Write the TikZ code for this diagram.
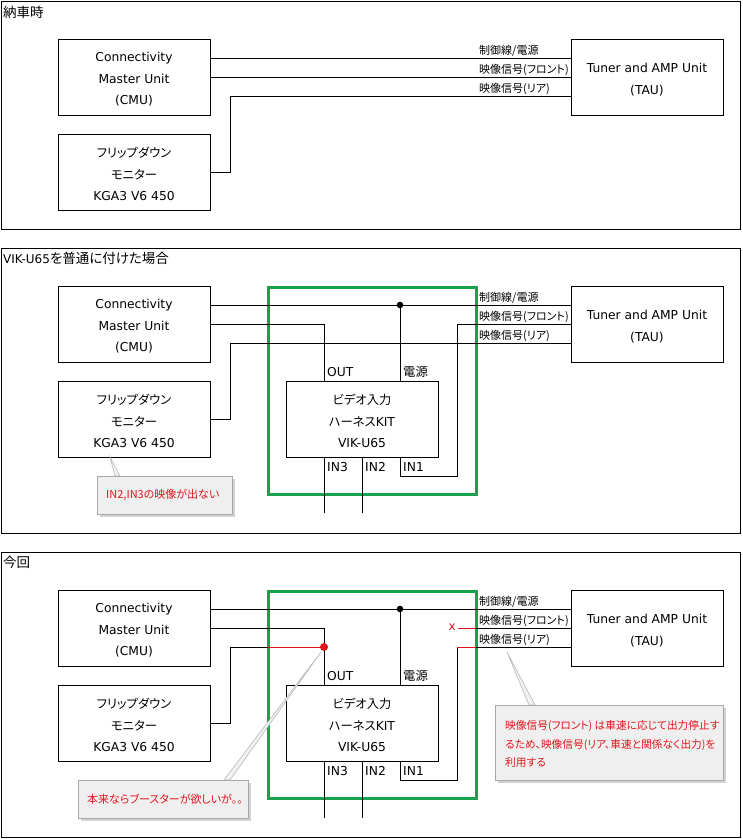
\documentclass[tikz,border=0pt]{standalone}
\usepackage{fontspec}
\setmainfont{DejaVu Sans}
\newfontfamily\cjk[RawFeature=+palt]{Noto Sans CJK JP}
\newfontfamily\lat{DejaVu Sans}
\usetikzlibrary{shadows}
\definecolor{grn}{HTML}{17A24E}
\definecolor{rd}{HTML}{E3141C}
\definecolor{callfill}{HTML}{EFEFEF}
\definecolor{callborder}{HTML}{A8A8A8}
\tikzset{
  panel/.style={draw, line width=0.9pt, minimum width=739pt, minimum height=285pt, inner sep=0pt},
  unit/.style={draw, line width=0.9pt, minimum width=152pt, minimum height=76pt, inner sep=0pt},
  utext/.style={inner sep=0pt, align=center, font=\lat\fontsize{12.3}{21.5}\selectfont},
  wire/.style={line width=0.9pt},
  redwire/.style={line width=0.9pt, draw=rd},
  sig/.style={font=\cjk\fontsize{11}{13}\selectfont, anchor=base west, inner sep=0pt},
  port/.style={font=\lat\fontsize{12.3}{14}\selectfont, anchor=base west, inner sep=0pt},
  ttl/.style={font=\cjk\fontsize{13.5}{15}\selectfont, anchor=west, inner sep=0pt},
  grnbox/.style={draw=grn, line width=3pt, inner sep=0pt, minimum width=208pt, minimum height=207pt},
  callout/.style={draw=callborder, fill=callfill, line width=0.8pt, inner sep=0pt,
     drop shadow={opacity=0.35, shadow xshift=2.5pt, shadow yshift=-2.5pt}},
  calltext/.style={font=\cjk\fontsize{11}{18.5}\selectfont, text=rd, anchor=west, inner sep=0pt, align=left},
  pointer/.style={draw=gray!55, line width=0.6pt, fill=gray!10},
}
\newcommand{\cmutext}{Connectivity\\Master Unit\\(CMU)}
\newcommand{\tautext}{Tuner and AMP Unit\\(TAU)}
\newcommand{\monitortext}{{\cjk\fontsize{12.3}{21.5}\selectfont フリップダウン}\\{\cjk\fontsize{12.3}{21.5}\selectfont モニター}\\KGA3 V6 450}
\newcommand{\viktext}{{\cjk\fontsize{12.3}{21.5}\selectfont ビデオ入力}\\{\cjk\fontsize{12.3}{21.5}\selectfont ハーネス}KIT\\VIK-U65}
\begin{document}
\begin{tikzpicture}[x=1pt,y=-1pt]
\useasboundingbox[fill=white] (0,0) rectangle (743,839);

% ================= Panel 1 =================
\node[panel, minimum height=228pt] (p1) at (370.5,115) {};
\node[ttl] (t1) at (3,12) {納車時};
\node[unit] (cmu1) at (134,77) {};
\node[utext] (cmu1t) at ([yshift=-2.5pt]cmu1.center) {\cmutext};
\node[unit] (mon1) at (134,172) {};
\node[utext] (mon1t) at ([yshift=-2pt]mon1.center) {\monitortext};
\node[unit] (tau1) at (647,77) {};
\node[utext] (tau1t) at ([yshift=-2.5pt]tau1.center) {\tautext};
\draw[wire] ([yshift=19pt]cmu1.east) -- ([yshift=19pt]tau1.west);
\draw[wire] (cmu1.east) -- (tau1.west);
\draw[wire] (mon1.east) -- ++(20,0) |- ([yshift=-19pt]tau1.west);
\node[sig] (s1a) at (479,54) {制御線/電源};
\node[sig] (s1b) at (479,73) {映像信号(フロント)};
\node[sig] (s1c) at (479,92) {映像信号(リア)};

% ================= Panel 2 =================
\begin{scope}[shift={(0,247)}]
\node[panel] (p2) at (370.5,143.5) {};
\node[ttl] (t2) at (3,11) {{\lat\fontsize{12}{14}\selectfont VIK-U65}を普通に付けた場合};
\node[grnbox] (g2) at (372,143.5) {};
\node[unit] (cmu2) at (134,77) {};
\node[utext] (cmu2t) at ([yshift=-2.5pt]cmu2.center) {\cmutext};
\node[unit] (mon2) at (134,172) {};
\node[utext] (mon2t) at ([yshift=-2pt]mon2.center) {\monitortext};
\node[unit] (tau2) at (647,77) {};
\node[utext] (tau2t) at ([yshift=-2.5pt]tau2.center) {\tautext};
\node[unit] (vik2) at (362,172) {};
\node[utext] (vik2t) at ([yshift=-2pt]vik2.center) {\viktext};
\coordinate (j2) at (400,58);
\coordinate (out2) at (324,134);
\coordinate (in1b2) at (400,210);
\coordinate (in2b2) at (362,210);
\coordinate (in3b2) at (324,210);
\coordinate (bend2) at (457,77);
\draw[wire] ([yshift=19pt]cmu2.east) -- ([yshift=19pt]tau2.west);
\draw[wire] (j2) -- (j2 |- vik2.north);
\fill (j2) circle (3.3pt);
\draw[wire] (cmu2.east) -| (out2);
\draw[wire] (mon2.east) -- ++(20,0) |- ([yshift=-19pt]tau2.west);
\draw[wire] (in1b2) -- ++(0,19) -| (bend2) -- (tau2.west);
\draw[wire] (in3b2) -- ++(0,56);
\draw[wire] (in2b2) -- ++(0,56);
\node[sig] (s2a) at (479,54) {制御線/電源};
\node[sig] (s2b) at (479,73) {映像信号(フロント)};
\node[sig] (s2c) at (479,92) {映像信号(リア)};
\node[port] (o2) at (327,129) {OUT};
\node[sig, font=\cjk\fontsize{12.3}{14}\selectfont] (pw2) at (403,129) {電源};
\node[port] (i32) at (327,224) {IN3};
\node[port] (i22) at (365,224) {IN2};
\node[port] (i12) at (403,224) {IN1};
\draw[pointer] (110,210) -- (115,229) -- (120,229) -- cycle;
\node[callout, minimum width=135pt, minimum height=38pt] (c2) at (164.5,248) {};
\node[calltext] (c2t) at (106,248) {IN2,IN3の映像が出ない};
\end{scope}

% ================= Panel 3 =================
\begin{scope}[shift={(0,551)}]
\node[panel] (p3) at (370.5,143.5) {};
\node[ttl] (t3) at (3,11) {今回};
\node[grnbox] (g3) at (372,143.5) {};
\node[unit] (cmu3) at (134,77) {};
\node[utext] (cmu3t) at ([yshift=-2.5pt]cmu3.center) {\cmutext};
\node[unit] (mon3) at (134,172) {};
\node[utext] (mon3t) at ([yshift=-2pt]mon3.center) {\monitortext};
\node[unit] (tau3) at (647,77) {};
\node[utext] (tau3t) at ([yshift=-2.5pt]tau3.center) {\tautext};
\node[unit] (vik3) at (362,172) {};
\node[utext] (vik3t) at ([yshift=-2pt]vik3.center) {\viktext};
\coordinate (j3) at (400,58);
\coordinate (out3) at (324,134);
\coordinate (rd3) at (324,96);
\coordinate (in1b3) at (400,210);
\coordinate (in2b3) at (362,210);
\coordinate (in3b3) at (324,210);
\coordinate (bend3) at (457,96);
\coordinate (gl3) at (268,96);
\coordinate (gr3) at (476,96);
\coordinate (fx3) at (476,77);
\coordinate (fxe3) at (458,77);
\draw[wire] ([yshift=19pt]cmu3.east) -- ([yshift=19pt]tau3.west);
\draw[wire] (j3) -- (j3 |- vik3.north);
\fill (j3) circle (3.3pt);
\draw[wire] (cmu3.east) -| (out3);
\draw[wire] (mon3.east) -- ++(20,0) |- (gl3);
\draw[redwire] (gl3) -- (rd3);
\fill[rd] (rd3) circle (4pt);
\draw[wire] (in1b3) -- ++(0,19) -| (bend3);
\draw[redwire] (bend3) -- (gr3);
\draw[wire] (gr3) -- ([yshift=-19pt]tau3.west);
\draw[wire] (tau3.west) -- (fx3);
\draw[redwire] (fx3) -- (fxe3);
\node[font=\lat\fontsize{12}{12}\selectfont, text=rd, inner sep=0pt, anchor=east] (xm3) at (456,76) {x};
\draw[wire] (in3b3) -- ++(0,57);
\draw[wire] (in2b3) -- ++(0,57);
\node[sig] (s3a) at (479,54) {制御線/電源};
\node[sig] (s3b) at (479,73) {映像信号(フロント)};
\node[sig] (s3c) at (479,92) {映像信号(リア)};
\node[port] (o3) at (327,129) {OUT};
\node[sig, font=\cjk\fontsize{12.3}{14}\selectfont] (pw3) at (403,129) {電源};
\node[port] (i33) at (327,224) {IN3};
\node[port] (i23) at (365,224) {IN2};
\node[port] (i13) at (403,224) {IN1};
% callout 1
\draw[pointer] (321,101) -- (224,229) -- (230,229) -- cycle;
\node[callout, minimum width=170pt, minimum height=38pt] (c3a) at (163,248) {};
\node[calltext] (c3at) at (87,248) {本来ならブースターが欲しいが。。};
% callout 2
\draw[pointer] (507,101) -- (529,154) -- (535,154) -- cycle;
\node[callout, minimum width=228pt, minimum height=75pt] (c3b) at (609,191.5) {};
\node[calltext, font=\cjk\fontsize{10.7}{18.5}\selectfont] (c3bt) at (505,193) {映像信号(フロント) は車速に応じて出力停止す\\るため、映像信号(リア、車速と関係なく出力)を\\利用する};
\end{scope}
\end{tikzpicture}
\end{document}
